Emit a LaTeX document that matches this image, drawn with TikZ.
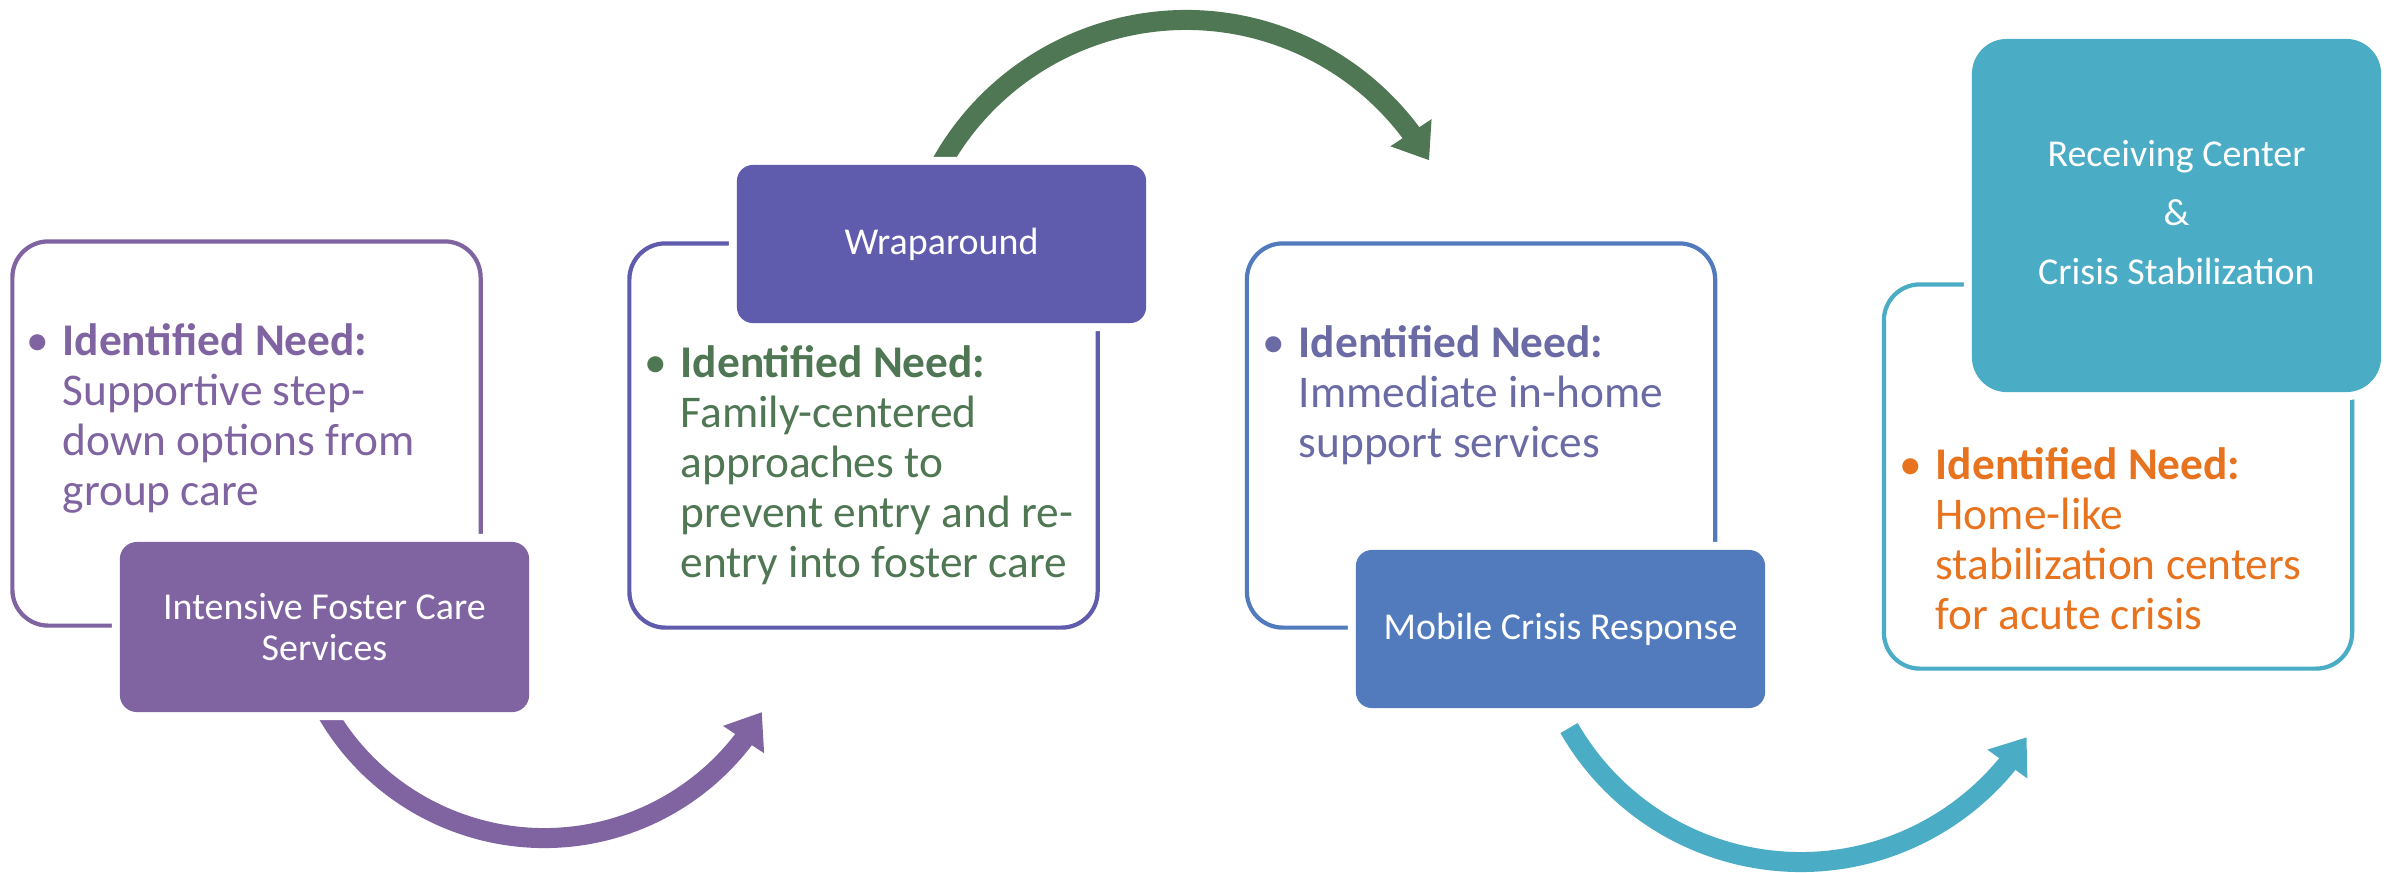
\documentclass[tikz,border=0pt]{standalone}
\usepackage{fontspec}
\setmainfont{Carlito}
\usetikzlibrary{arrows.meta,bending}
\definecolor{cPur}{HTML}{8064A2}
\definecolor{cInd}{HTML}{5F5BAD}
\definecolor{cBlu}{HTML}{517BBD}
\definecolor{cAqu}{HTML}{4BACC6}
\definecolor{cGrn}{HTML}{4F7753}
\definecolor{tPur}{HTML}{8064A2}
\definecolor{tGrn}{HTML}{4F7753}
\definecolor{tBlu}{HTML}{6A6BA5}
\definecolor{tOra}{HTML}{E8731F}
\newcommand{\firstline}{\rule{0pt}{12pt}\llap{\textbullet\hspace{0.14cm}}}
\begin{document}
\begin{tikzpicture}[x=0.01cm,y=0.01cm,
  outl/.style={draw=#1, line width=1.2pt, rounded corners=0.36cm, minimum width=4.68cm, minimum height=3.84cm, inner sep=0pt, fill=white},
  head/.style={fill=#1, preaction={draw=white, line width=0.16cm}, inner sep=0pt, text=white, align=center, font=\fontsize{10.8}{11.9}\selectfont},
  body/.style={text=#1, anchor=north west, align=left, inner sep=0pt, font=\fontsize{12.9}{14.2}\selectfont},
  arr/.style={draw=#1, line width=0.2cm, -{Triangle[length=0.33cm,width=0.47cm]}}
]
\fill[white] (0,0) rectangle (2394,-872);
\useasboundingbox (0,0) rectangle (2394,-872);

% outline boxes
\node[outl=cPur] (o1) at (246.5,-433.5) {};
\node[outl=cInd] (o2) at (863.5,-435.5) {};
\node[outl=cBlu] (o3) at (1481,-435.5) {};
\node[outl=cAqu] (o4) at (2118,-476.5) {};

% body texts
\node[body=tPur] (b1) at (62,-312.8) {\firstline\textbf{Identified Need:}\\Supportive step-\\down options from\\group care};
\node[body=tGrn] (b2) at (680,-334.8) {\firstline\textbf{Identified Need:}\\Family-centered\\approaches to\\prevent entry and re-\\entry into foster care};
\node[body=tBlu] (b3) at (1298,-314.8) {\firstline\textbf{Identified Need:}\\Immediate in-home\\support services};
\node[body=tOra] (b4) at (1935,-436.8) {\firstline\textbf{Identified Need:}\\Home-like\\stabilization centers\\for acute crisis};

% arc centres
\coordinate (pc) at (544.2,-586.9);
\coordinate (gc) at (1186.1,-300.6);
\coordinate (ac) at (1800.6,-594.9);

% arrows
\draw[arr=cPur] (pc) ++(205:251.1) arc[start angle=205, end angle=330.1, radius=251.1];
\draw[arr=cGrn] (gc) ++(155:280.6) arc[start angle=155, end angle=30, radius=280.6];
\draw[arr=cAqu] (ac) ++(209.9:267.1) arc[start angle=209.9, end angle=327.8, radius=267.1];

% header boxes
\node[head=cPur, rounded corners=0.17cm, minimum width=4.09cm, minimum height=1.70cm] (h1) at (324.5,-627) {Intensive Foster Care\\Services};
\node[head=cInd, rounded corners=0.16cm, minimum width=4.09cm, minimum height=1.58cm] (h2) at (941.5,-244) {Wraparound};
\node[head=cBlu, rounded corners=0.16cm, minimum width=4.09cm, minimum height=1.58cm] (h3) at (1560.5,-629) {Mobile Crisis Response};
\node[head=cAqu, rounded corners=0.35cm, minimum width=4.09cm, minimum height=3.53cm, font=\fontsize{10.8}{16.8}\selectfont] (h4) at (2176.5,-215.5) {Receiving Center\\\&\\Crisis Stabilization\vphantom{g}};
\end{tikzpicture}
\end{document}
